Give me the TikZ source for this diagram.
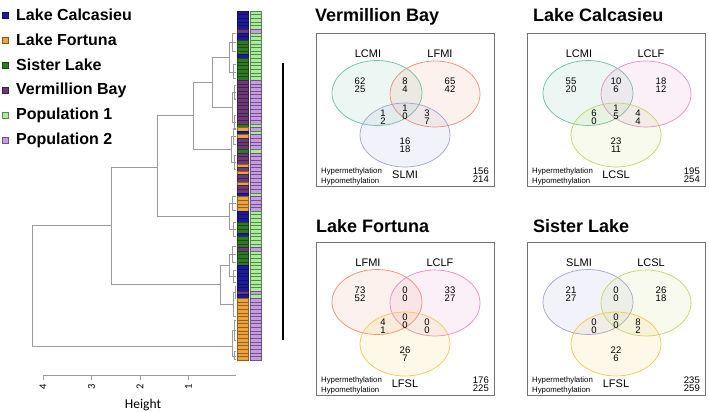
\documentclass[tikz,border=0pt]{standalone}
\usepackage{fontspec}
\setmainfont{Liberation Sans}
\newfontfamily\calfont{Carlito}
\definecolor{cB}{HTML}{1E1A9C}
\definecolor{cO}{HTML}{F0A23A}
\definecolor{cG}{HTML}{2E7A24}
\definecolor{cP}{HTML}{6C3A78}
\definecolor{rB}{HTML}{A8EE98}
\definecolor{rG}{HTML}{A8EE98}
\definecolor{rO}{HTML}{C89AE8}
\definecolor{rP}{HTML}{C89AE8}
\definecolor{dgray}{HTML}{9A9A9A}
\definecolor{vGreen}{HTML}{66C29E}
\definecolor{vOrange}{HTML}{F28C6E}
\definecolor{vBlue}{HTML}{9AA4D6}
\definecolor{vPink}{HTML}{E68AC8}
\definecolor{vYG}{HTML}{BFD766}
\definecolor{vYellow}{HTML}{F2C84A}
\newcommand\clus[3]{\draw[dend] (236,#2) -- (#1,#2) -- (#1,#3) -- (236,#3);}
\newcommand\vpanel[7]{%
 \draw[boxl] (0,0) rectangle (178,153);
 \path[ellf=#5] (61,60) ellipse [x radius=45,y radius=32.5];
 \path[ellf=#6] (119,61) ellipse [x radius=45,y radius=33];
 \path[ellf=#7] (89,102) ellipse [x radius=45,y radius=32];
 \node[vlab] (#1la) at (52,21) {#2};
 \node[vlab] (#1lb) at (124,21) {#3};
 \node[vlab] (#1lc) at (89,142) {#4};
 \node[tinyt] (#1hyper) at (5,138) {Hypermethylation};
 \node[tinyt] (#1hypo) at (5,148) {Hypomethylation};
}
\newcommand\vnums[9]{%
 \node[num] (#1nA) at (44,52) {#2};
 \node[num] (#1nAB) at (89,52) {#3};
 \node[num] (#1nB) at (134,52) {#4};
 \node[num] (#1nABC) at (89,79) {#5};
 \node[num] (#1nAC) at (67,84) {#6};
 \node[num] (#1nBC) at (111,84) {#7};
 \node[num] (#1nC) at (89,112) {#8};
 \node[num,anchor=east] (#1tot) at (173,142) {#9};
}
\begin{document}
\begin{tikzpicture}[x=1pt,y=-1pt,
 dend/.style={draw=dgray, line width=0.7pt},
 leg/.style={anchor=west, font=\fontsize{16}{18}\selectfont\bfseries, inner sep=0},
 ttl/.style={anchor=base west, font=\fontsize{18}{20}\selectfont\bfseries, inner sep=0},
 boxl/.style={draw=black!55, line width=0.8pt},
 ellf/.style={draw=#1, fill=#1, fill opacity=0.12, line width=0.7pt},
 vlab/.style={font=\fontsize{11}{13}\selectfont, inner sep=0},
 tinyt/.style={anchor=west, font=\fontsize{7.8}{9}\selectfont, inner sep=0},
 num/.style={font=\fontsize{9.5}{7.7}\selectfont, align=center, inner sep=0},
 ticklab/.style={font=\calfont\fontsize{10.5}{12}\selectfont, rotate=90, inner sep=0},
 cellL/.style={line width=0.3pt},
 cellR/.style={line width=0.3pt}]
\useasboundingbox (0,0) rectangle (709,412);
\fill[white] (0,0) rectangle (709,412);

% legend
\foreach \col/\txt/\yy [count=\k] in {cB/Lake Calcasieu/15, cO/Lake Fortuna/40, cG/Sister Lake/65, cP/Vermillion Bay/90, rB/Population 1/115, rP/Population 2/140} {
 \filldraw[fill=\col, draw=\col!55!black, line width=0.4pt] (2,\yy-3) rectangle (8,\yy+3);
 \node[leg] (leg\k) at (16,\yy) {\txt};
}

% colour strips
\foreach \cc [count=\i from 0] in {B,B,B,B,B,P,B,B,G,G,G,G,B,G,G,G,G,G,G,P,P,P,P,P,P,P,P,P,P,P,P,G,O,B,O,P,P,P,G,P,P,P,O,P,O,P,P,O,P,P,B,O,O,O,O,B,B,B,G,G,G,B,G,G,G,P,G,G,G,G,B,B,B,B,B,B,B,P,B,O,O,O,O,O,O,O,O,O,O,O,O,O,O,O,O,O} {
 \filldraw[cellL, fill=c\cc, draw=c\cc!60!black] (237,{11+\i*3.6354}) rectangle (248,{11+(\i+1)*3.6354});
 \filldraw[cellR, fill=r\cc, draw=r\cc!55!black] (250,{11+\i*3.6354}) rectangle (261,{11+(\i+1)*3.6354});
}

% dendrogram
\draw[dend] (111,225) -- (32,225) -- (32,346) -- (232,346);
\draw[dend] (157,167) -- (111,167) -- (111,284) -- (220,284);
\draw[dend] (229,265) -- (220,265) -- (220,304) -- (233,304);
\draw[dend] (193,115) -- (157,115) -- (157,216) -- (229,216);
\draw[dend] (212,82) -- (193,82) -- (193,149) -- (231,149);
\draw[dend] (229,57) -- (212,57) -- (212,107) -- (232,107);
\clus{229}{42}{72}\clus{232}{33}{51}\clus{233}{64}{78}
\clus{232}{92}{122}\clus{234}{85}{99}\clus{234}{115}{129}
\clus{231}{136}{162}\clus{233}{128}{144}\clus{234}{155}{169}
\clus{229}{203}{229}\clus{232}{196}{210}\clus{233}{222}{236}
\clus{229}{254}{276}\clus{232}{246}{262}\clus{233}{270}{282}
\clus{233}{292}{316}\clus{235}{286}{298}
\clus{232}{330}{356}\clus{234}{320}{340}\clus{234}{351}{359}

% axis
\draw[dend] (43,375) -- (236,375);
\foreach \xx/\lb [count=\k] in {43/4, 91.5/3, 140/2, 188.5/1} {
 \draw[dend] (\xx,375) -- (\xx,380);
 \node[ticklab] (tick\k) at (\xx,387) {\lb};
}
\node[font=\calfont\fontsize{13.5}{15}\selectfont, inner sep=0] (hlab) at (143,405) {Height};

% separator
\draw[line width=1.3pt] (283,63) -- (283,340);

% titles
\node[ttl] (t1) at (315,22) {Vermillion Bay};
\node[ttl] (t2) at (533,22) {Lake Calcasieu};
\node[ttl] (t3) at (316,232) {Lake Fortuna};
\node[ttl] (t4) at (533,232) {Sister Lake};

\begin{scope}[shift={(316,33)}]
 \vpanel{p1}{LCMI}{LFMI}{SLMI}{vGreen}{vOrange}{vBlue}
 \vnums{p1}{62\\25}{8\\4}{65\\42}{1\\0}{1\\2}{3\\7}{16\\18}{156\\214}
\end{scope}
\begin{scope}[shift={(527,33)}]
 \vpanel{p2}{LCMI}{LCLF}{LCSL}{vGreen}{vPink}{vYG}
 \vnums{p2}{55\\20}{10\\6}{18\\12}{1\\5}{6\\0}{4\\4}{23\\11}{195\\254}
\end{scope}
\begin{scope}[shift={(316,242)}]
 \vpanel{p3}{LFMI}{LCLF}{LFSL}{vOrange}{vPink}{vYellow}
 \vnums{p3}{73\\52}{0\\0}{33\\27}{0\\0}{4\\1}{0\\0}{26\\7}{176\\225}
\end{scope}
\begin{scope}[shift={(527,242)}]
 \vpanel{p4}{SLMI}{LCSL}{LFSL}{vBlue}{vYG}{vYellow}
 \vnums{p4}{21\\27}{0\\0}{26\\18}{0\\0}{0\\0}{8\\2}{22\\6}{235\\259}
\end{scope}
\end{tikzpicture}
\end{document}
